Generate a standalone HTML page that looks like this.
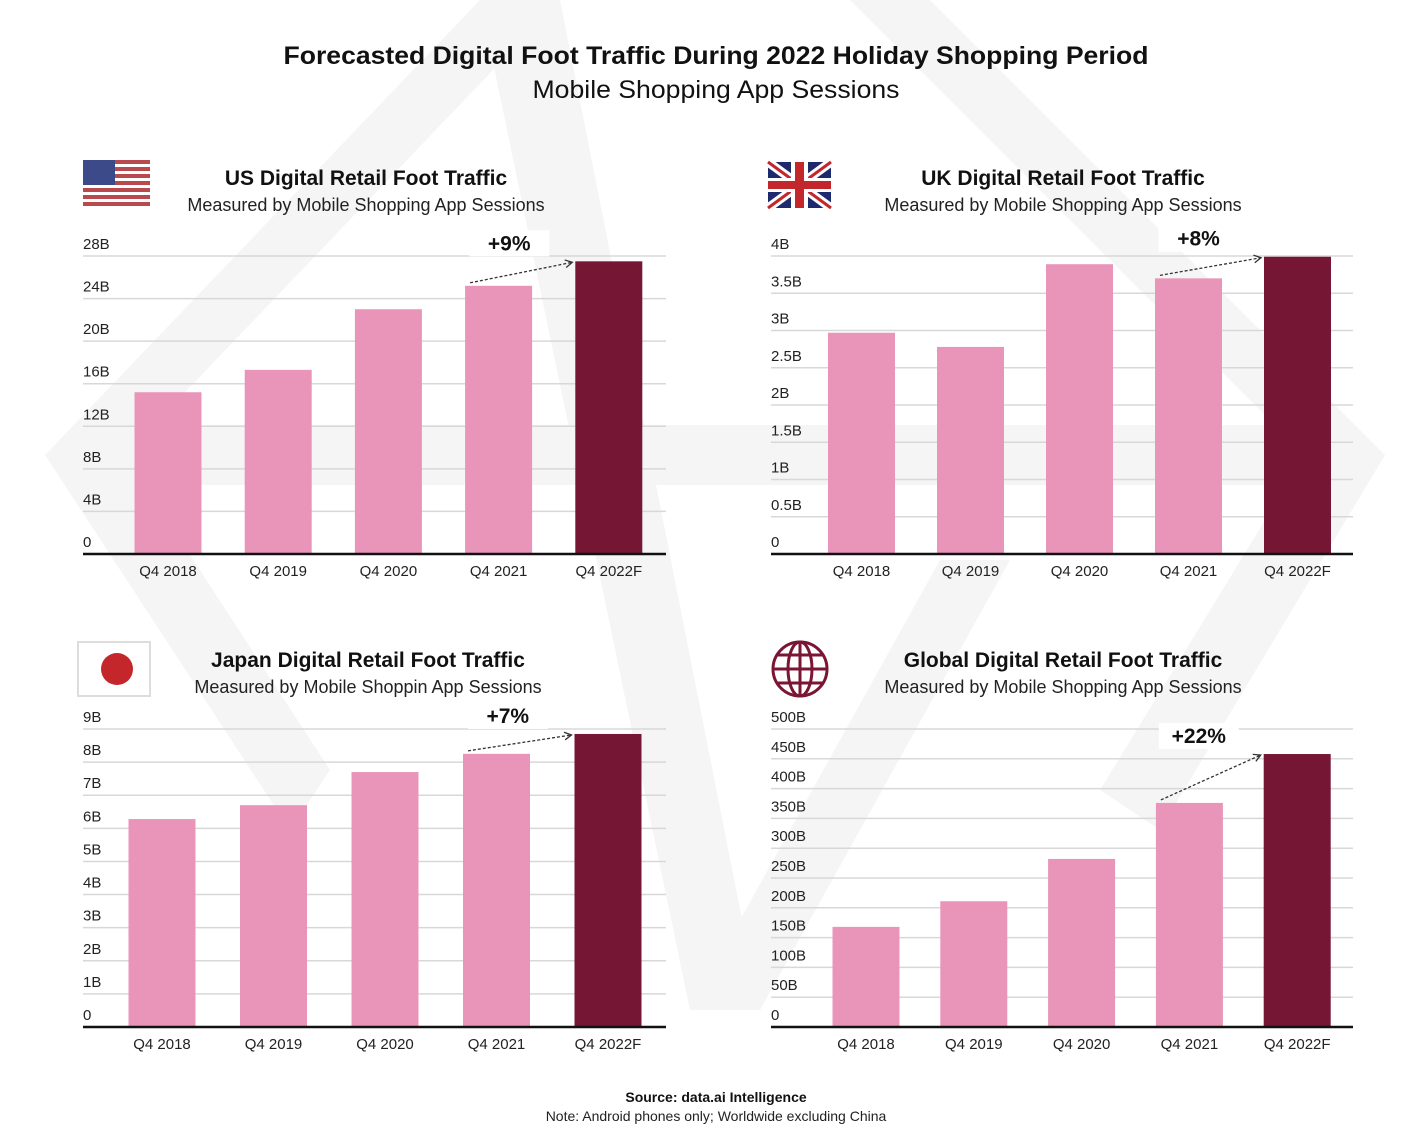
<!DOCTYPE html>
<html><head><meta charset="utf-8"><style>
html,body{margin:0;padding:0;background:#fff;}
svg{display:block;font-family:"Liberation Sans",sans-serif;}
</style></head><body>
<svg id="root" width="1418" height="1130" viewBox="0 0 1418 1130" xmlns="http://www.w3.org/2000/svg">
<g fill="#f5f5f5">
  <polygon points="45,455 480,0 560,0 125,455 330,770 290,830"/>
  <polygon points="480,0 560,0 760,1010 690,1010"/>
  <polygon points="850,0 930,0 1385,455 1305,455"/>
  <polygon points="1385,455 1305,455 1100,790 1160,830"/>
  <polygon points="690,1010 760,1010 1010,560 940,560"/>
  <rect x="120" y="425" width="1200" height="60"/>
</g>
<text x="716" y="64" text-anchor="middle" font-size="25" font-weight="bold" fill="#111" textLength="865" lengthAdjust="spacingAndGlyphs">Forecasted Digital Foot Traffic During 2022 Holiday Shopping Period</text>
<text x="716" y="98" text-anchor="middle" font-size="25" fill="#111" textLength="367" lengthAdjust="spacingAndGlyphs">Mobile Shopping App Sessions</text>

<g>
  <rect x="83" y="160" width="67" height="48" fill="#fff"/>
  <g fill="#b84a4e">
    <rect x="83" y="160" width="67" height="4"/><rect x="83" y="167" width="67" height="4"/><rect x="83" y="174" width="67" height="4"/><rect x="83" y="181" width="67" height="4"/><rect x="83" y="188" width="67" height="4"/><rect x="83" y="195" width="67" height="4"/><rect x="83" y="202" width="67" height="4"/>
  </g>
  <rect x="83" y="160" width="32" height="25" fill="#3c4a8a"/>
</g>
<g>
  <rect x="768" y="162" width="63" height="46" fill="#1e2a6e"/>
  <path d="M768,162 L831,208 M831,162 L768,208" stroke="#fff" stroke-width="9"/>
  <path d="M768,162 L831,208 M831,162 L768,208" stroke="#c3272b" stroke-width="3"/>
  <rect x="768" y="178" width="63" height="14" fill="#fff"/>
  <rect x="791" y="162" width="17" height="46" fill="#fff"/>
  <rect x="768" y="181" width="63" height="8" fill="#c3272b"/>
  <rect x="795" y="162" width="9" height="46" fill="#c3272b"/>
</g>
<g>
  <rect x="78" y="642" width="72" height="54" fill="#fff" stroke="#ddd" stroke-width="2"/>
  <circle cx="117" cy="669" r="16" fill="#c3272b"/>
</g>
<g fill="none" stroke="#7a1634" stroke-width="3">
  <circle cx="800" cy="669" r="27"/>
  <ellipse cx="800" cy="669" rx="12" ry="27"/>
  <line x1="800" y1="642" x2="800" y2="696"/>
  <line x1="773" y1="669" x2="827" y2="669"/>
  <line x1="777" y1="655" x2="823" y2="655"/>
  <line x1="777" y1="683" x2="823" y2="683"/>
</g>

<g id="charts"></g>

<text x="716" y="1102" text-anchor="middle" font-size="14" font-weight="bold" fill="#111">Source: data.ai Intelligence</text>
<text x="716" y="1121" text-anchor="middle" font-size="14" fill="#222">Note: Android phones only; Worldwide excluding China</text>
</svg>
<script>
const categories = ["Q4 2018","Q4 2019","Q4 2020","Q4 2021","Q4 2022F"];
const usValues = [15.2, 17.3, 23.0, 25.2, 27.5];
const usTicks = [0,4,8,12,16,20,24,28];
const usTickLabels = ["0","4B","8B","12B","16B","20B","24B","28B"];
const ukValues = [2.97, 2.78, 3.89, 3.70, 3.99];
const ukTicks = [0,0.5,1,1.5,2,2.5,3,3.5,4];
const ukTickLabels = ["0","0.5B","1B","1.5B","2B","2.5B","3B","3.5B","4B"];
const jpValues = [6.28, 6.7, 7.7, 8.25, 8.85];
const jpTicks = [0,1,2,3,4,5,6,7,8,9];
const jpTickLabels = ["0","1B","2B","3B","4B","5B","6B","7B","8B","9B"];
const glValues = [168, 211, 282, 376, 458];
const glTicks = [0,50,100,150,200,250,300,350,400,450,500];
const glTickLabels = ["0","50B","100B","150B","200B","250B","300B","350B","400B","450B","500B"];
const usChange = "+9%", ukChange = "+8%", jpChange = "+7%", glChange = "+22%";

const NS = "http://www.w3.org/2000/svg";
const root = document.getElementById('charts');
function mk(tag, attrs, parent){const e=document.createElementNS(NS,tag);for(const k in attrs)e.setAttribute(k,attrs[k]);parent.appendChild(e);return e;}

function drawChart(cfg){
  const g = mk('g',{},root);
  
  
  const max = cfg.ticks[cfg.ticks.length-1];
  const y = v => cfg.base - (cfg.base - cfg.top) * v / max;
  const xc = i => cfg.c0 + cfg.step*i;
  const bw = 67;
  const t = mk('text',{x:cfg.tx,y:cfg.ty,'text-anchor':'middle','font-size':21,'font-weight':'bold',fill:'#111'},g);
  t.textContent = cfg.title;
  
  
  const s = mk('text',{x:cfg.tx,y:cfg.ty+26,'text-anchor':'middle','font-size':18,fill:'#222'},g);
  s.textContent = cfg.sub;
  
  
  cfg.ticks.forEach((v,i)=>{
    if(i>0){
      const l = mk('line',{x1:cfg.x0,x2:cfg.x1,y1:y(v),y2:y(v),stroke:'#d8d8d8','stroke-width':1.5},g);
      
      
    }
    const tl = mk('text',{x:cfg.x0,y:y(v)-7,'font-size':15,fill:'#222'},g);
    tl.textContent = cfg.labels[i];
    
    
  });
  cfg.values.forEach((v,i)=>{
    const r = mk('rect',{x:xc(i)-bw/2,y:y(v),width:bw,height:cfg.base-y(v),fill:i===4?'#761635':'#e995ba'},g);
    
    
    const xl = mk('text',{x:xc(i),y:cfg.base+22,'text-anchor':'middle','font-size':15,fill:'#222'},g);
    xl.textContent = categories[i];
    
    
  });
  const ax = mk('line',{x1:cfg.x0,x2:cfg.x1,y1:cfg.base,y2:cfg.base,stroke:'#111','stroke-width':2.5},g);
  
  
  const ax1 = xc(3)-bw/2+5, ay1 = y(cfg.values[3])-3, ax2 = xc(4)-bw/2-3, ay2 = y(cfg.values[4])+1;
  const mx = (ax1+ax2)/2 - 12;
  const bg = mk('rect',{x:mx-40,y:ay2-32,width:80,height:26,fill:'#fff'},g);
  
  
  const at = mk('text',{x:mx,y:ay2-12,'text-anchor':'middle','font-size':21,'font-weight':'bold',fill:'#111'},g);
  at.textContent = cfg.change;
  
  
  const al = mk('line',{x1:ax1,y1:ay1,x2:ax2,y2:ay2,stroke:'#333','stroke-width':1.3,'stroke-dasharray':'3,2'},g);
  
  
  const ang = Math.atan2(ay2-ay1, ax2-ax1);
  const p = (a,d)=>[ax2-d*Math.cos(ang+a), ay2-d*Math.sin(ang+a)];
  const h1=p(0.5,8), h2=p(-0.5,8);
  const ah = mk('path',{d:`M${h1[0]},${h1[1]} L${ax2},${ay2} L${h2[0]},${h2[1]}`,fill:'none',stroke:'#333','stroke-width':1.3},g);
  
  
}

drawChart({name:'us-chart',title:'US Digital  Retail  Foot Traffic',sub:'Measured by Mobile Shopping App Sessions',tx:366,ty:185,x0:83,x1:666,c0:168,step:110.2,base:554,top:256,ticks:usTicks,labels:usTickLabels,values:usValues,change:usChange});
drawChart({name:'uk-chart',title:'UK Digital  Retail  Foot Traffic',sub:'Measured by Mobile Shopping App Sessions',tx:1063,ty:185,x0:771,x1:1353,c0:861.5,step:109,base:554,top:256,ticks:ukTicks,labels:ukTickLabels,values:ukValues,change:ukChange});
drawChart({name:'japan-chart',title:'Japan Digital  Retail  Foot Traffic',sub:'Measured by Mobile Shoppin App Sessions',tx:368,ty:667,x0:83,x1:666,c0:162,step:111.5,base:1027,top:729,ticks:jpTicks,labels:jpTickLabels,values:jpValues,change:jpChange});
drawChart({name:'global-chart',title:'Global Digital  Retail  Foot Traffic',sub:'Measured by Mobile Shopping App Sessions',tx:1063,ty:667,x0:771,x1:1353,c0:866,step:107.8,base:1027,top:729,ticks:glTicks,labels:glTickLabels,values:glValues,change:glChange});
</script>
</body></html>
